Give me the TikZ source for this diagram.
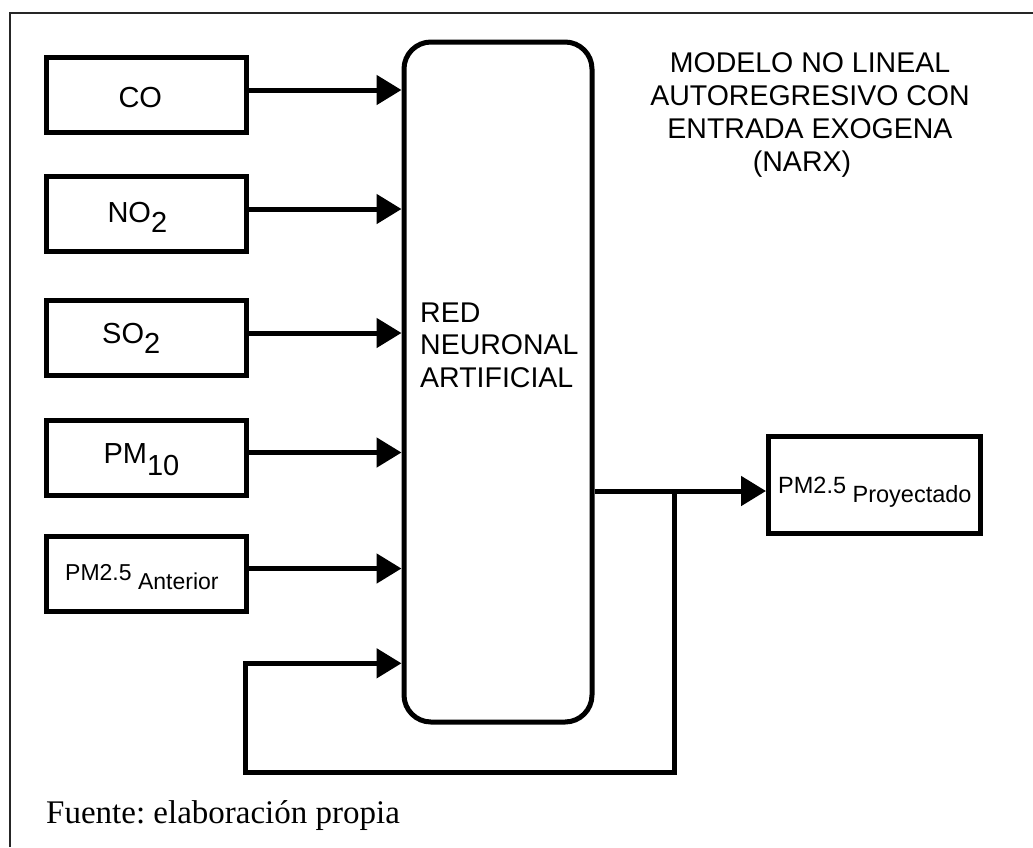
\documentclass[tikz,border=0pt]{standalone}
\usepackage{fontspec}
\setmainfont{Liberation Sans}
\newfontfamily\fuentefont{Liberation Serif}
\usetikzlibrary{arrows.meta}
\frenchspacing
\begin{document}
\begin{tikzpicture}[x=1pt,y=-1pt,
  frame/.style={line width=1.8pt, draw=black!85},
  inbox/.style={draw, line width=5pt, minimum width=200pt, minimum height=75pt, inner sep=0pt},
  nnbox/.style={draw, line width=5pt, rounded corners=27pt, minimum width=188pt, minimum height=680pt, inner sep=0pt},
  outbox/.style={draw, line width=5pt, minimum width=212pt, minimum height=96.5pt, inner sep=0pt},
  conn/.style={line width=5pt},
  arr/.style={line width=5pt, -{Triangle[length=25pt,width=29pt]}},
  big/.style={font=\fontsize{29}{33}\selectfont, inner sep=0pt, anchor=base west},
  small/.style={font=\fontsize{23.5}{28}\selectfont, inner sep=0pt, anchor=base west}
]
\useasboundingbox (0,0) rectangle (1033,847);
% outer frame (cropped)
\draw[frame] (10,847) -- (10,13) -- (1033,13);

% input boxes
\node[inbox] (co)   at (146.5,95)    {};
\node[inbox] (no2)  at (146.5,214)   {};
\node[inbox] (so2)  at (146.5,338)   {};
\node[inbox] (pm10) at (146.5,457.5) {};
\node[inbox] (ant)  at (146.5,573.5) {};

\node[big] (cot)   at (118.3,107.3) {CO};
\node[big] (no2t)  at (107.3,222)   {NO\raisebox{-10pt}{2}};
\node[big] (so2t)  at (102,343.3)   {SO\raisebox{-10.5pt}{2}};
\node[big] (pm10t) at (103.3,463.3) {PM\raisebox{-12pt}{10}};
\node[small,font=\fontsize{23}{28}\selectfont] (antt) at (65,580) {PM2.5 \raisebox{-9pt}{Anterior}};

% neural network box
\node[nnbox] (nn) at (498,382) {};
\node[font=\fontsize{28.5}{32.8}\selectfont, align=left, anchor=north west, inner sep=0pt] (nnt) at (420,302.3) {RED\\NEURONAL\\ARTIFICIAL};

% output box
\node[outbox] (out) at (874.5,484.75) {};
\node[small] (outt) at (778,493) {PM2.5 \raisebox{-9pt}{Proyectado}};

% title
\node[font=\fontsize{28.5}{33}\selectfont, align=center, anchor=north, inner sep=0pt] (title) at (810,52.5) {MODELO NO LINEAL\\AUTOREGRESIVO CON\\ENTRADA EXOGENA\\(NARX)\hspace*{16pt}};

% input connectors
\foreach \n in {co,no2,so2,pm10,ant} {
  \draw[arr] ([yshift=5pt]\n.east) coordinate (s-\n) -- (s-\n -| nn.west);
}

% output and feedback
\coordinate (j) at (674.5,491);
\coordinate (fb) at (245.8,663.3);
\draw[arr] (j -| nn.east) -- (j -| out.west);
\draw[arr] (j) -- ++(0,281.5) -| (fb) -- (fb -| nn.west);

% source
\node[anchor=base west, inner sep=0pt, font=\fuentefont\fontsize{33}{35}\selectfont] (src) at (46,823) {Fuente: elaboración propia};
\end{tikzpicture}
\end{document}
